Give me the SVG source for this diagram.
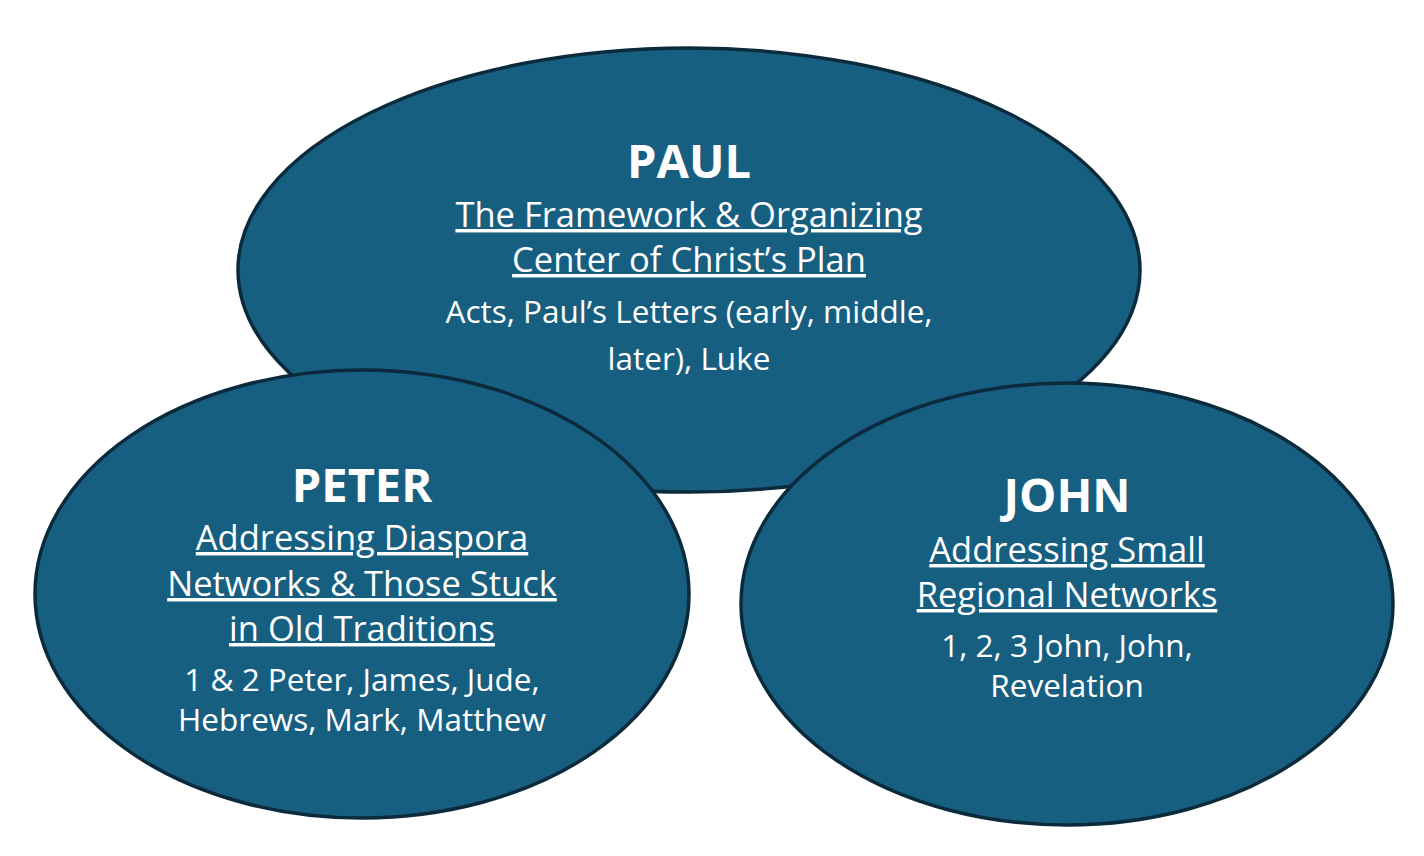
<svg xmlns="http://www.w3.org/2000/svg" width="1424" height="856" viewBox="0 0 1424 856">
<style>
.node ellipse{fill:#175f81;stroke:#0b2a3c;stroke-width:3.5}
text{font-family:"Open Sans","Noto Sans","Liberation Sans",sans-serif;fill:#ffffff;text-anchor:middle}
.t{font-weight:700;font-size:47px}
.s{font-size:34.5px;text-decoration:underline}
.b{font-size:31.5px}
</style>
<rect width="1424" height="856" fill="#ffffff"/>
<g id="paul" class="node">
<ellipse cx="689" cy="270" rx="451" ry="222"/>
<text class="t" x="689" y="178">PAUL</text>
<text class="s" x="689" y="227">The Framework &amp; Organizing</text>
<text class="s" x="689" y="272">Center of Christ’s Plan</text>
<text class="b" x="689" y="323">Acts, Paul’s Letters (early, middle,</text>
<text class="b" x="689" y="370">later), Luke</text>
</g>
<g id="peter" class="node">
<ellipse cx="362" cy="594" rx="327" ry="224"/>
<text class="t" x="362" y="502">PETER</text>
<text class="s" x="362" y="550">Addressing Diaspora</text>
<text class="s" x="362" y="596">Networks &amp; Those Stuck</text>
<text class="s" x="362" y="641">in Old Traditions</text>
<text class="b" x="362" y="691">1 &amp; 2 Peter, James, Jude,</text>
<text class="b" x="362" y="731">Hebrews, Mark, Matthew</text>
</g>
<g id="john" class="node">
<ellipse cx="1067" cy="604" rx="326" ry="221"/>
<text class="t" x="1067" y="512">JOHN</text>
<text class="s" x="1067" y="562">Addressing Small</text>
<text class="s" x="1067" y="607">Regional Networks</text>
<text class="b" x="1067" y="657">1, 2, 3 John, John,</text>
<text class="b" x="1067" y="697">Revelation</text>
</g>
<g id="connectors"></g>
</svg>
